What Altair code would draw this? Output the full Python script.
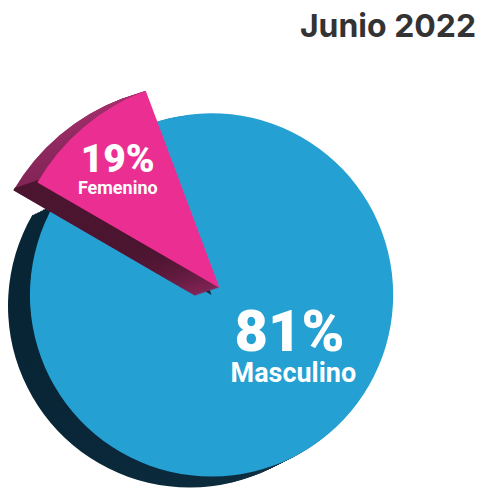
import altair as alt
import pandas as pd

# ---- data ----
sexos = ["Masculino", "Femenino"]
valores = [81, 19]
orden = [0, 1]
titulo = "Junio 2022"

df = pd.DataFrame({"sexo": sexos, "valor": valores, "orden": orden})
df["etiqueta"] = [f"{v}%" for v in valores]

# ---- style / layout ----
W, H = 468, 476
AZUL = "#25A0D3"
ROSA, ROSA_OSCURO = "#EB2E91", "#4c1631"
R_AZUL, R_ROSA = 182, 211
C_AZUL = (204, 287)      # centre of the blue disc (svg px)
C_ROSA = (212, 280)      # apex of the pink wedge
OFF_AZUL = (-22, 11)     # extrusion of the 3D side
OFF_ROSA = (-24, 8)

theta_scale = alt.Scale(type="pow", exponent=0.55, domain=[0, 100],
                        range=[5.925, 5.925 + 6.2832])


def base(sexo):
    return (
        alt.Chart(df)
        .transform_window(fin="sum(valor)", sort=[alt.SortField("orden")],
                          frame=[None, 0])
        .transform_calculate(inicio="datum.fin - datum.valor",
                             fino="datum.fin - datum.valor + 0.4")
        .transform_filter(alt.datum.sexo == sexo)
    )


def arco(sexo, cx, cy, r, fill, thin=False):
    t2 = "fino" if thin else "fin"
    return base(sexo).mark_arc(radius=r, fill=fill, stroke=None).encode(
        theta=alt.Theta("inicio:Q", scale=theta_scale),
        theta2=alt.Theta2(t2),
        x=alt.value(cx), y=alt.value(cy),
    )


lado_azul = alt.LinearGradient(
    gradient="linear", x1=0, y1=0.5, x2=1, y2=0.5,
    stops=[alt.GradientStop(color="#082536", offset=0),
           alt.GradientStop(color="#0c2c3d", offset=0.6),
           alt.GradientStop(color="#2c4756", offset=1)])
lado_rosa = alt.LinearGradient(
    gradient="linear", x1=0, y1=1, x2=0.6, y2=0,
    stops=[alt.GradientStop(color="#6a1d47", offset=0),
           alt.GradientStop(color="#a6306e", offset=1)])

capas = []
N = 14
for i in range(N, 0, -1):
    t = i / N
    capas.append(arco("Masculino", C_AZUL[0] + OFF_AZUL[0] * t,
                      C_AZUL[1] + OFF_AZUL[1] * t, R_AZUL, lado_azul))
capas.append(arco("Masculino", C_AZUL[0], C_AZUL[1], R_AZUL, AZUL))

M = 26
for i in range(M, 0, -1):
    t = i / M
    capas.append(arco("Femenino", C_ROSA[0] + OFF_ROSA[0] * t,
                      C_ROSA[1] + OFF_ROSA[1] * t, R_ROSA, lado_rosa))
for i in range(M, -1, -1):
    t = i / M
    capas.append(arco("Femenino", C_ROSA[0] + OFF_ROSA[0] * t,
                      C_ROSA[1] + OFF_ROSA[1] * t, R_ROSA, ROSA_OSCURO,
                      thin=True))
capas.append(arco("Femenino", C_ROSA[0], C_ROSA[1], R_ROSA, ROSA))


def texto(sexo, campo, x, y, size, weight):
    return base(sexo).mark_text(
        font="Roboto", fontSize=size, fontWeight=weight, color="white",
        align="center", baseline="alphabetic",
    ).encode(text=f"{campo}:N", x=alt.value(x), y=alt.value(y))


capas += [
    texto("Masculino", "etiqueta", 282, 343, 58, 900),
    texto("Masculino", "sexo", 286, 374, 27, 700),
    texto("Femenino", "etiqueta", 110, 164, 39, 900),
    texto("Femenino", "sexo", 110, 186, 18, 700),
]

titulo_capa = alt.Chart(pd.DataFrame({"t": [titulo]})).mark_text(
    font="Inter", fontSize=32, fontWeight=700, color="#333333",
    align="right", baseline="alphabetic",
).encode(text="t:N", x=alt.value(469), y=alt.value(29))
capas.append(titulo_capa)

chart = alt.layer(*capas).properties(
    width=W, height=H, padding=0, background="white"
).configure_view(stroke=None)

chart.save("out.html", embed_options={"renderer": "svg", "actions": False})
